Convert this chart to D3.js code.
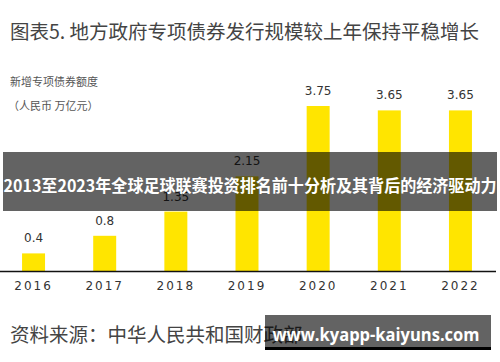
<!DOCTYPE html>
<html lang="zh">
<head>
<meta charset="UTF-8">
<title>地方政府专项债券发行规模</title>
<script src="https://d3js.org/d3.v7.min.js"></script>
<style>
  body, html { margin: 0; padding: 0; background: #fff; }
  svg { display: block; }
</style>
</head>
<body>
<svg id="chart" width="500" height="362"></svg>
<script>
  // chart data
  const years  = ["2016", "2017", "2018", "2019", "2020", "2021", "2022"];
  const values = [0.4, 0.8, 1.35, 2.15, 3.75, 3.65, 3.65];
  const labels = ["0.4", "0.8", "1.35", "2.15", "3.75", "3.65", "3.65"];

  const titleText  = "图表5. 地方政府专项债券发行规模较上年保持平稳增长";
  const unitLines  = ["新增专项债券额度", "（人民币 万亿元）"];
  const sourceText = "资料来源：中华人民共和国财政部";
  const bannerText = "2013至2023年全球足球联赛投资排名前十分析及其背后的经济驱动力";
  const siteText   = "www.kyapp-kaiyuns.com";

  const cjk = "'Noto Sans CJK SC', 'Noto Sans', sans-serif";
  const svg = d3.select("#chart");

  const baseY = 271;
  const x = d3.scaleBand().domain(years).range([0, 494])
              .paddingInner(0.677).paddingOuter(0.31);
  const y = d3.scaleLinear().domain([0, 4]).range([baseY, baseY - 176]);

  // title
  svg.append("text")
     .attr("x", 10).attr("y", 39)
     .attr("font-family", cjk).attr("font-size", 19.5)
     .attr("fill", "#444")
     .text(titleText);

  // unit label
  svg.selectAll(".unit")
     .data(unitLines)
     .enter().append("text")
       .attr("class", "unit")
       .attr("x", (d, i) => i ? 8 : 10)
       .attr("y", (d, i) => 86 + i * 24)
       .attr("font-family", cjk).attr("font-size", 11)
       .attr("fill", "#555")
       .text(d => d);

  // bars
  svg.selectAll(".bar")
     .data(values)
     .enter().append("rect")
       .attr("class", "bar")
       .attr("x", (d, i) => x(years[i]))
       .attr("y", d => y(d))
       .attr("width", x.bandwidth())
       .attr("height", d => baseY - y(d))
       .attr("fill", "#FFE500");

  // value labels
  svg.selectAll(".val")
     .data(values)
     .enter().append("text")
       .attr("class", "val")
       .attr("x", (d, i) => x(years[i]) + x.bandwidth() / 2)
       .attr("y", d => y(d) - 11)
       .attr("text-anchor", "middle")
       .attr("font-family", "'DejaVu Sans', sans-serif").attr("font-size", 12)
       .attr("fill", "#333")
       .text((d, i) => labels[i]);

  // x axis
  const axis = svg.append("g")
     .attr("transform", `translate(0,${baseY})`)
     .call(d3.axisBottom(x).tickSize(0).tickPadding(10));
  axis.select(".domain").attr("d", "M0,0.5H496").attr("stroke", "#111").attr("stroke-width", 1.5);
  axis.selectAll("text")
      .attr("font-family", "'DejaVu Sans', sans-serif").attr("font-size", 12)
      .attr("letter-spacing", "2px")
      .attr("fill", "#333");

  // source
  svg.append("text")
     .attr("x", 10).attr("y", 342)
     .attr("font-family", cjk).attr("font-size", 19.5)
     .attr("fill", "#444")
     .text(sourceText);

  // banner overlay
  svg.append("rect")
     .attr("x", 3).attr("y", 152).attr("width", 494).attr("height", 59)
     .attr("fill", "rgba(0,0,0,0.61)");
  svg.append("text")
     .attr("x", 250).attr("y", 192)
     .attr("text-anchor", "middle")
     .attr("font-family", cjk).attr("font-size", 16.5).attr("font-weight", "bold")
     .attr("fill", "#fff")
     .attr("textLength", 493).attr("lengthAdjust", "spacingAndGlyphs")
     .text(bannerText);

  // site box
  svg.append("rect")
     .attr("x", 265).attr("y", 315).attr("width", 226).attr("height", 33)
     .attr("fill", "rgba(0,0,0,0.61)");
  svg.append("rect")
     .attr("x", 265).attr("y", 347).attr("width", 226).attr("height", 3)
     .attr("fill", "#000");
  svg.append("text")
     .attr("x", 376).attr("y", 341)
     .attr("text-anchor", "middle")
     .attr("font-family", "'Open Sans', 'DejaVu Sans', sans-serif")
     .attr("font-size", 17).attr("font-weight", "bold")
     .attr("fill", "#fff")
     .attr("textLength", 207).attr("lengthAdjust", "spacingAndGlyphs")
     .text(siteText);
</script>
</body>
</html>
